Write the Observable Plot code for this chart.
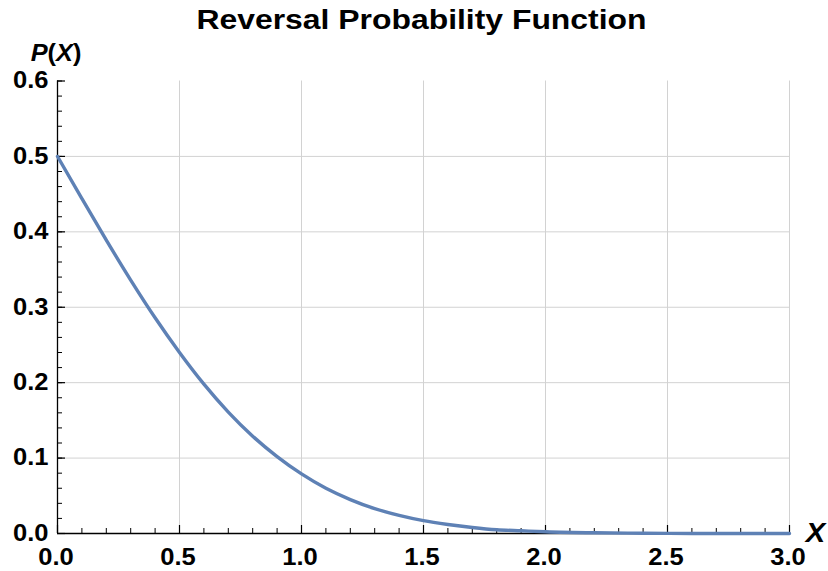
<!DOCTYPE html>
<html>
<head>
<meta charset="utf-8">
<script src="https://cdn.jsdelivr.net/npm/d3@7"></script>
<script src="https://cdn.jsdelivr.net/npm/@observablehq/plot@0.6"></script>
<style>
  html, body { margin: 0; padding: 0; background: #fff; }
  svg { display: block; }
</style>
</head>
<body>
<div id="chart"></div>
<script>
// ---- data ----
const xValues = [0, 0.1, 0.2, 0.3, 0.4, 0.5, 0.6, 0.7, 0.8, 0.9, 1.0, 1.1, 1.2, 1.3, 1.4, 1.5, 1.6, 1.7, 1.8, 1.9, 2.0, 2.2, 2.4, 2.6, 2.8, 3.0];
const pValues = [0.5, 0.444, 0.389, 0.336, 0.286, 0.240, 0.198, 0.161, 0.129, 0.102, 0.079, 0.060, 0.045, 0.033, 0.024, 0.017, 0.012, 0.008, 0.005, 0.0036, 0.0023, 0.0009, 0.0003, 0.0001, 0.00003, 0.00001];
const xTicks = [0, 0.5, 1.0, 1.5, 2.0, 2.5, 3.0];
const yTicks = [0, 0.1, 0.2, 0.3, 0.4, 0.5, 0.6];
const xMinorTicks = d3.range(0, 31).map(i => i / 10);
const yMinorTicks = d3.range(0, 31).map(i => i / 50);
const xGrid = [0.5, 1.0, 1.5, 2.0, 2.5, 3.0];
const yGrid = [0.1, 0.2, 0.3, 0.4, 0.5];
const titleText = ["Reversal Probability Function"];
const yLabelText = ["P(X)"];
const xLabelText = ["X"];

const data = xValues.map((x, i) => ({x, p: pValues[i]}));
const fmt = d3.format(".1f");
const font = "Liberation Sans, Arial, sans-serif";

const chart = Plot.plot({
  width: 828,
  height: 571,
  marginLeft: 57,
  marginRight: 39,
  marginTop: 80.5,
  marginBottom: 38,
  style: {fontFamily: font, fontWeight: "bold", color: "#000", background: "#fff"},
  x: {domain: [0, 3]},
  y: {domain: [0, 0.6]},
  marks: [
    // grid
    Plot.ruleX(xGrid, {y1: 0, y2: 0.6, stroke: "#d2d2d2", strokeWidth: 1}),
    Plot.ruleY(yGrid, {x1: 0, x2: 3, stroke: "#d2d2d2", strokeWidth: 1}),
    // inward ticks
    Plot.axisX(xTicks, {tickSize: -8, text: null, label: null, strokeWidth: 1.2}),
    Plot.axisX(xMinorTicks, {tickSize: -5, text: null, label: null, strokeWidth: 1}),
    Plot.axisY(yTicks, {tickSize: -8, text: null, label: null, strokeWidth: 1.2}),
    Plot.axisY(yMinorTicks, {tickSize: -5, text: null, label: null, strokeWidth: 1}),
    // tick labels
    Plot.text(xTicks, {x: d => d, text: d => fmt(d), frameAnchor: "bottom", dy: 24, dx: -1.5, lineAnchor: "middle", fontSize: 23, fontWeight: "bold", className: "ticklab"}),
    Plot.text(yTicks, {y: d => d, text: d => fmt(d), frameAnchor: "left", dx: -9, textAnchor: "end", lineAnchor: "middle", fontSize: 23, fontWeight: "bold", className: "ticklab"}),
    // axis lines
    Plot.ruleX([0], {y1: 0, y2: 0.6, stroke: "#000", strokeWidth: 1.3}),
    Plot.ruleY([0], {x1: 0, x2: 3, stroke: "#000", strokeWidth: 1.3}),
    // curve
    Plot.line(data, {x: "x", y: "p", stroke: "#5e81b5", strokeWidth: 3.4, curve: "monotone-x"}),
    // title and axis labels
    Plot.text(titleText, {text: d => d, frameAnchor: "top", dy: -61, dx: -2, fontSize: 27.5, fontWeight: "bold", lineAnchor: "middle", className: "title"}),
    Plot.text(yLabelText, {text: d => d, frameAnchor: "top-left", dx: -1.5, dy: -27.5, fontSize: 23.5, fontWeight: "bold", fontStyle: "italic", textAnchor: "middle", lineAnchor: "middle", className: "axlab"}),
    Plot.text(xLabelText, {text: d => d, frameAnchor: "bottom-right", dx: 26, dy: 0, fontSize: 27, fontWeight: "bold", fontStyle: "italic", textAnchor: "middle", lineAnchor: "middle", className: "axlab"})
  ]
});

// the reference glyphs are somewhat wider than Liberation Sans: stretch horizontally
function stretch(sel, s) {
  sel.each(function() {
    const tr = this.getAttribute("transform") || "";
    const xa = this.getAttribute("x");
    const x = xa != null && !isNaN(+xa) ? +xa : 0;
    if (xa != null && !isNaN(+xa)) this.removeAttribute("x");
    this.setAttribute("transform", `${tr} translate(${x},0) scale(${s},1)`);
  });
}

// upright parentheses in P(X)
d3.select(chart).selectAll("text").each(function() {
  const t = d3.select(this);
  if (t.text() === "P(X)") {
    t.text(null);
    t.append("tspan").text("P");
    t.append("tspan").attr("font-style", "normal").text("(");
    t.append("tspan").text("X");
    t.append("tspan").attr("font-style", "normal").text(")");
  }
});

stretch(d3.select(chart).selectAll("g.title text"), 1.16);
stretch(d3.select(chart).selectAll("g.ticklab text"), 1.11);
stretch(d3.select(chart).selectAll("g.axlab text"), 1.08);

document.getElementById("chart").appendChild(chart);
</script>
</body>
</html>
